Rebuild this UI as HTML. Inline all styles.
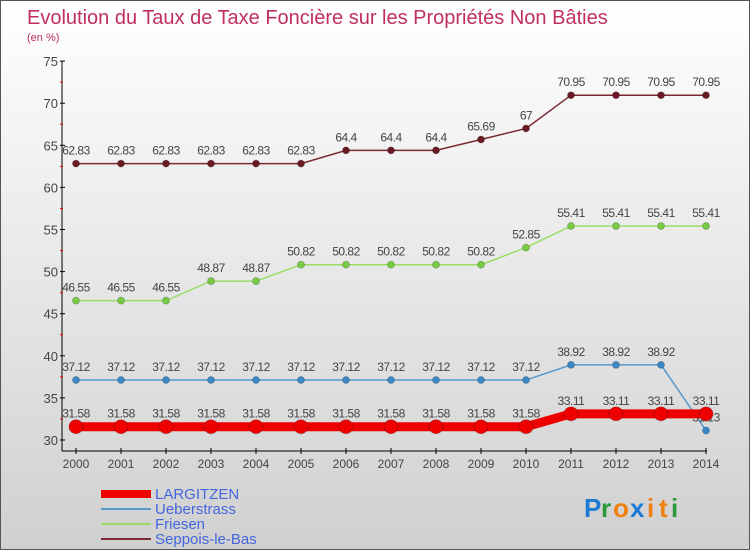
<!DOCTYPE html>
<html><head><meta charset="utf-8"><style>
body{margin:0}
#c{width:750px;height:550px;position:relative;font-family:"Liberation Sans",sans-serif;background:linear-gradient(#fff,#d0d0d0);box-sizing:border-box;border:1px solid #555;overflow:hidden}
svg text{font-family:"Liberation Sans",sans-serif}
</style></head><body>
<div id="c">
<svg id="s" width="750" height="550"></svg>
</div>
<script>
const years=[2000,2001,2002,2003,2004,2005,2006,2007,2008,2009,2010,2011,2012,2013,2014];
const seppois=[62.83,62.83,62.83,62.83,62.83,62.83,64.4,64.4,64.4,65.69,67,70.95,70.95,70.95,70.95];
const friesen=[46.55,46.55,46.55,48.87,48.87,50.82,50.82,50.82,50.82,50.82,52.85,55.41,55.41,55.41,55.41];
const ueber=[37.12,37.12,37.12,37.12,37.12,37.12,37.12,37.12,37.12,37.12,37.12,38.92,38.92,38.92,31.13];
const largitzen=[31.58,31.58,31.58,31.58,31.58,31.58,31.58,31.58,31.58,31.58,31.58,33.11,33.11,33.11,33.11];
const yTicks=[30,35,40,45,50,55,60,65,70,75];
const seppoisLabels=["62.83","62.83","62.83","62.83","62.83","62.83","64.4","64.4","64.4","65.69","67","70.95","70.95","70.95","70.95"];
const friesenLabels=["46.55","46.55","46.55","48.87","48.87","50.82","50.82","50.82","50.82","50.82","52.85","55.41","55.41","55.41","55.41"];
const ueberLabels=["37.12","37.12","37.12","37.12","37.12","37.12","37.12","37.12","37.12","37.12","37.12","38.92","38.92","38.92","31.13"];
const largLabels=["31.58","31.58","31.58","31.58","31.58","31.58","31.58","31.58","31.58","31.58","31.58","33.11","33.11","33.11","33.11"];
const NS="http://www.w3.org/2000/svg",svg=document.getElementById('s');
const x=i=>75+i*45, y=v=>439-(v-30)*8.42;
function el(t,a,txt){const e=document.createElementNS(NS,t);for(const k in a)e.setAttribute(k,a[k]);if(txt!=null)e.textContent=txt;svg.appendChild(e);return e;}
let t=el('text',{x:26,y:23,fill:'#c0305e','font-size':20},'Evolution du Taux de Taxe Foncière sur les Propriétés Non Bâties');

t=el('text',{x:26,y:40,fill:'#c0305e','font-size':11},'(en %)');

let a=el('line',{x1:61,y1:60,x2:61,y2:450,stroke:'#000'});
a=el('line',{x1:61,y1:450,x2:706,y2:450,stroke:'#000'});
yTicks.forEach((v,i)=>{el('line',{x1:59,y1:y(v),x2:64,y2:y(v),stroke:'#000'});
 let l=el('text',{x:57,y:y(v)+5,'text-anchor':'end','font-size':13,fill:'#444'},v);
 
 if(i<yTicks.length-1)el('line',{x1:59,y1:y(v+2.5),x2:62,y2:y(v+2.5),stroke:'#e00'});});
years.forEach((yr,i)=>{el('line',{x1:x(i),y1:447,x2:x(i),y2:453,stroke:'#000'});
 let l=el('text',{x:x(i),y:467,'text-anchor':'middle','font-size':12,fill:'#444'},yr);
 });
function series(vals,labs,color,dot,w,r,name){
 let p=el('polyline',{points:vals.map((v,i)=>x(i)+','+y(v)).join(' '),fill:'none',stroke:color,'stroke-width':w});
 
 vals.forEach((v,i)=>{let c=el('circle',{cx:x(i),cy:y(v),r:r,fill:dot,stroke:'#0003'});
  
  let l=el('text',{x:x(i),y:y(v)-9,'text-anchor':'middle','font-size':12,fill:'#444','letter-spacing':'-0.5'},labs[i]);
  });
}
series(seppois,seppoisLabels,'#7a2a33','#6b1a22',1.5,3.5,'seppois');
series(friesen,friesenLabels,'#99dd66','#77cc44',1.5,3.5,'friesen');
series(ueber,ueberLabels,'#5599cc','#3a88c8',1.5,3.5,'ueberstrass');
series(largitzen,largLabels,'#ee0000','#ee0000',9,7,'largitzen');
const leg=[['LARGITZEN','#ee0000',8],['Ueberstrass','#5599cc',2],['Friesen','#99dd66',2],['Seppois-le-Bas','#7a2a33',2]];
leg.forEach((d,i)=>{const yy=493+i*15;
 let l=el('line',{x1:100,y1:yy,x2:150,y2:yy,stroke:d[1],'stroke-width':d[2]});
 let tx=el('text',{x:154,y:yy+5,'font-size':15,fill:'#4466dd'},d[0]);});
const logo=[['P','#1a7ad4'],['r','#2a9a3a'],['o','#f08010'],['x','#1a7ad4'],['i','#f08010'],['t','#f08010'],['i','#2a9a3a']];
let lx=583;logo.forEach(d=>{let tx=el('text',{x:lx,y:516,'font-size':26,fill:d[1],'font-weight':'bold'},d[0]);
 lx+=d[0]=='i'||d[0]=='t'||d[0]=='r'?12:17;});
</script>
</body></html>
